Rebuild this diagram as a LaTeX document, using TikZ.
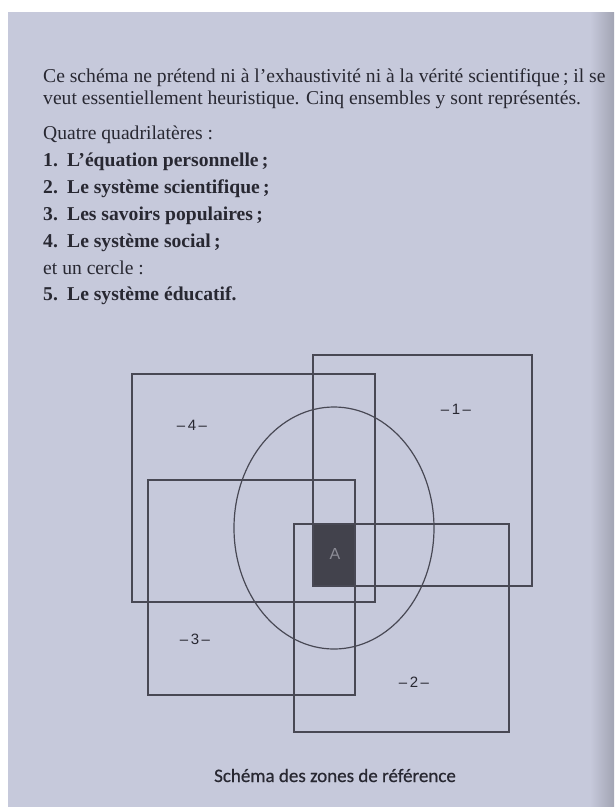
\documentclass[tikz,border=0pt]{standalone}
\usepackage{fontspec}
\setmainfont{Liberation Serif}
\newfontfamily\capfont[FakeBold=0.6]{Carlito}
\newfontfamily\lblfont{Liberation Sans}
\usetikzlibrary{positioning}

\definecolor{paper}{RGB}{198,201,219}
\definecolor{ink}{RGB}{40,40,50}
\definecolor{trait}{RGB}{72,72,84}
\definecolor{zoneA}{RGB}{66,66,76}
\definecolor{lettreA}{RGB}{140,140,150}

\begin{document}
\begin{tikzpicture}[x=1pt, y=-1pt,
    txt/.style={anchor=base west, inner sep=0pt, text=ink, font=\fontsize{19.6}{20}\selectfont},
    item/.style={txt, font=\fontsize{19.6}{20}\selectfont\bfseries},
    zone/.style={draw=trait, line width=1.2pt},
    num/.style={inner sep=0pt, text=ink, font=\lblfont\fontsize{15}{15}\selectfont}
]
\useasboundingbox (0,0) rectangle (614,807);
\fill[white] (0,0) rectangle (614,807);
\fill[paper] (8,12) rectangle (614,807);
\shade[left color=paper, right color=paper!82!black] (590,12) rectangle (614,807);

% texte
\node[txt] (intro1) at (43,82) {Ce schéma ne prétend ni à l’exhaustivité ni à la vérité scientifique\,; il se};
\node[txt] (intro2) at (43,104) {veut essentiellement heuristique. Cinq ensembles y sont représentés.};
\node[txt] (quatre) at (43,139) {Quatre quadrilatères :};
\node[item] (it1) at (43,166) {\makebox[24pt][l]{1.}L’équation personnelle\,;};
\node[item] (it2) at (43,193) {\makebox[24pt][l]{2.}Le système scientifique\,;};
\node[item] (it3) at (43,220) {\makebox[24pt][l]{3.}Les savoirs populaires\,;};
\node[item] (it4) at (43,247) {\makebox[24pt][l]{4.}Le système social\,;};
\node[txt] (cercle) at (43,274) {et un cercle :};
\node[item] (it5) at (43,300) {\makebox[24pt][l]{5.}Le système éducatif.};

% zones
\fill[zoneA] (314,524) rectangle (355,586);
\draw[zone] (313,355) rectangle (532,586); % 1
\draw[zone] (294,524) rectangle (509,732); % 2
\draw[zone] (148,480) rectangle (355,695); % 3
\draw[zone] (132,374) rectangle (375,602); % 4
\draw[zone] (334,528) ellipse [x radius=100pt, y radius=121pt]; % 5

\node[num] (n1) at (456,409) {–\,1\,–};
\node[num] (n2) at (414,682) {–\,2\,–};
\node[num] (n3) at (195,639) {–\,3\,–};
\node[num] (n4) at (192,425) {–\,4\,–};
\node[num, text=lettreA, font=\lblfont\fontsize{16}{16}\selectfont] (a) at (335,554) {A};

\node[anchor=base, inner sep=0pt, text=ink, font=\capfont\fontsize{19}{19}\selectfont] (titre) at (335,782) {Schéma des zones de référence};
\end{tikzpicture}
\end{document}
